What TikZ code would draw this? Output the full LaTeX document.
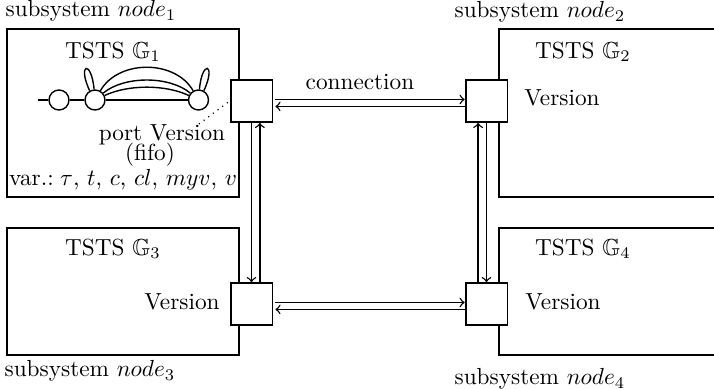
\documentclass[tikz,border=0pt]{standalone}
\usepackage{amssymb}
\begin{document}
\begin{tikzpicture}[x=0.43pt,y=-0.43pt,
  boxline/.style={line width=0.8pt},
  sysbox/.style={draw,line width=0.8pt,inner sep=0pt,minimum width=99.76pt},
  port/.style={draw,line width=0.8pt,fill=white,minimum size=18pt,inner sep=0pt},
  arr/.style={->,line width=0.6pt},
  state/.style={draw,circle,line width=0.6pt,minimum size=8.6pt,inner sep=0pt},
  edgeln/.style={line width=0.6pt},
  lbl/.style={inner sep=0pt}]
\useasboundingbox (0,0) rectangle (714,389);
% subsystem boxes
\node[sysbox,minimum height=72.24pt] (box1) at (123,113) {};
\node[sysbox,minimum height=54.6pt] (box3) at (123,291.5) {};
\coordinate (b2a) at (714,29);
\coordinate (b2b) at (499,29);
\coordinate (b2c) at (499,197);
\coordinate (b2d) at (714,197);
\draw[boxline] (b2a) -- (b2b) -- (b2c) -- (b2d);
\coordinate (b4a) at (714,228);
\coordinate (b4b) at (499,228);
\coordinate (b4c) at (499,355);
\coordinate (b4d) at (714,355);
\draw[boxline] (b4a) -- (b4b) -- (b4c) -- (b4d);
% ports
\node[port] (p1) at (251.5,101) {};
\node[port] (p2) at (486.5,101) {};
\node[port] (p3) at (251.5,304) {};
\node[port] (p4) at (486.5,304) {};
% connections
\draw[arr,shorten <=0.9pt] ([yshift=0.65pt]p1.east) -- ([yshift=0.65pt]p2.west);
\draw[arr,shorten >=0.9pt] ([yshift=-2.35pt]p2.west) -- ([yshift=-2.35pt]p1.east);
\draw[arr,shorten <=0.9pt] ([yshift=0.65pt]p3.east) -- ([yshift=0.65pt]p4.west);
\draw[arr,shorten >=0.9pt] ([yshift=-2.35pt]p4.west) -- ([yshift=-2.35pt]p3.east);
\draw[arr] (p1.south) -- (p3.north);
\draw[arr] ([xshift=3.6pt]p3.north) -- ([xshift=3.6pt]p1.south);
\draw[arr] ([xshift=-3.6pt]p4.north) -- ([xshift=-3.6pt]p2.south);
\draw[arr] (p2.south) -- (p4.north);
% labels
\node[lbl] (s1) at (91,11) {subsystem $node_1$};
\node[lbl] (s2) at (540,12) {subsystem $node_2$};
\node[lbl] (s3) at (90,371) {subsystem $node_3$};
\node[lbl] (s4) at (540,379) {subsystem $node_4$};
\node[lbl] (t1) at (113,52) {TSTS $\mathbb{G}_1$};
\node[lbl] (t2) at (583,52) {TSTS $\mathbb{G}_2$};
\node[lbl] (t3) at (113,249) {TSTS $\mathbb{G}_3$};
\node[lbl] (t4) at (583,249) {TSTS $\mathbb{G}_4$};
\node[lbl] (v2) at (562,98) {Version};
\node[lbl] (v3) at (182,302) {Version};
\node[lbl] (v4) at (563,302) {Version};
\node[lbl] (conn) at (360,82) {connection};
\node[lbl] (pv) at (162,135) {port Version};
\node[lbl] (ff) at (150,155) {(fifo)};
\node[lbl] (var) at (123,180) {var.$:\tau$, $t$, $c$, $cl$, $myv$, $v$};
% dotted pointer
\coordinate (dotend) at (199,124);
\draw[dotted,line width=0.5pt,shorten <=1pt] (p1.west) -- (dotend);
% TSTS graph
\coordinate (init) at (38,100);
\node[state] (c1) at (59,100) {};
\node[state] (c2) at (95,100) {};
\node[state] (c3) at (198.5,100) {};
\draw[edgeln] (init) -- (c1);
\draw[edgeln] (c1) -- (c2);
\draw[edgeln] (c2) -- (c3);
\draw[edgeln] (c2) to[out=60,in=120,looseness=1] (c3);
\draw[edgeln] (c2) to[out=40,in=140,looseness=0.8] (c3);
\draw[edgeln] (c2) to[out=25,in=155,looseness=0.8] (c3);
\draw[edgeln] (c2.120) .. controls +(115:13pt) and +(95:13pt) .. (c2.95);
\draw[edgeln] (c3.60) .. controls +(65:13pt) and +(85:13pt) .. (c3.85);
\end{tikzpicture}
\end{document}
